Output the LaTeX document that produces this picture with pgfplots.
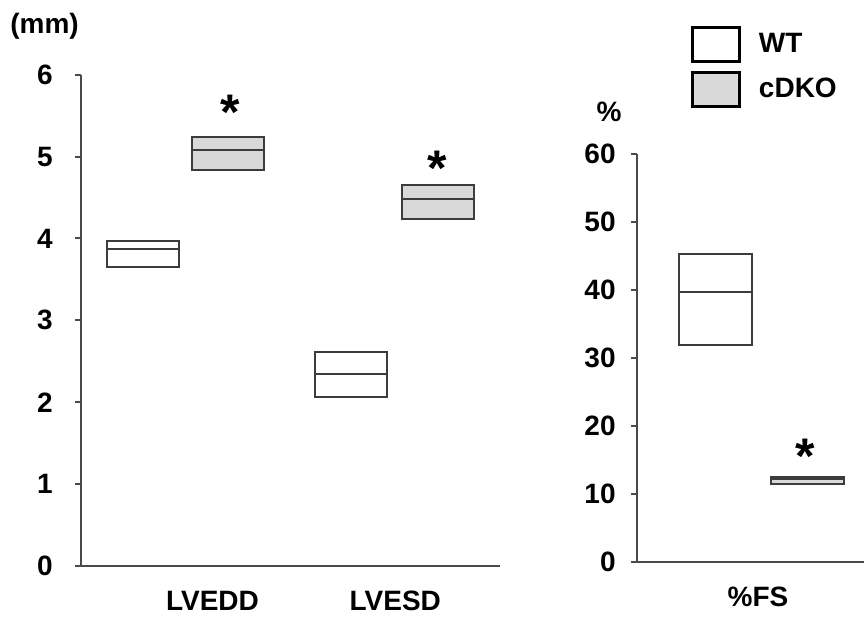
\documentclass[border=0pt]{standalone}
\usepackage{pgfplots}
\pgfplotsset{compat=1.18}
\usepackage{fontspec}
\setmainfont{Liberation Sans}
\definecolor{boxc}{HTML}{3C3C38}
\definecolor{fillc}{HTML}{D9D9D9}
\definecolor{axc}{HTML}{4A4A46}
\newcommand{\lblfont}{\bfseries\fontsize{14}{16.8}\selectfont}
\newcommand{\astfont}{\bfseries\fontsize{25}{30}\selectfont}
\pgfplotsset{
  common/.style={
    scale only axis, no markers, clip=false,
    axis lines*=left,
    axis line style={draw=axc, line width=1pt},
    tick align=outside, major tick length=3pt,
    every tick/.style={draw=axc, line width=1pt},
    xtick style={draw=none},
    ytick pos=left, xtick pos=bottom,
    /pgf/number format/assume math mode=true,
    tick label style={font=\lblfont, inner sep=0pt},
    xticklabel style={anchor=north, yshift=-9.35pt},
  },
  bx/.style={draw=boxc, line width=1pt},
}
\begin{document}
\begin{tikzpicture}
\useasboundingbox (0,0) rectangle (432pt,308.5pt);
% Left panel
\begin{axis}[common,
  at={(40.5pt,25.5pt)}, anchor=south west,
  width=209.5pt, height=245.65pt,
  xmin=81, xmax=500, ymin=0, ymax=6,
  ytick={0,1,2,3,4,5,6},
  yticklabel style={anchor=east, xshift=-11pt},
  xtick={212.5,395.3}, xticklabels={LVEDD,LVESD},
]
% LVEDD WT
\addplot[bx, fill=white] coordinates {(107,3.655) (179.3,3.655) (179.3,3.965) (107,3.965)} -- cycle;
\addplot[bx] coordinates {(107,3.875) (179.3,3.875)};
% LVEDD cDKO
\addplot[bx, fill=fillc] coordinates {(192.3,4.835) (264.3,4.835) (264.3,5.242) (192.3,5.242)} -- cycle;
\addplot[bx] coordinates {(192.3,5.083) (264.3,5.083)};
% LVESD WT
\addplot[bx, fill=white] coordinates {(315,2.06) (387,2.06) (387,2.617) (315,2.617)} -- cycle;
\addplot[bx] coordinates {(315,2.34) (387,2.34)};
% LVESD cDKO
\addplot[bx, fill=fillc] coordinates {(401.7,4.241) (474,4.241) (474,4.648) (401.7,4.648)} -- cycle;
\addplot[bx] coordinates {(401.7,4.485) (474,4.485)};
\node[anchor=north, inner sep=0pt, font=\astfont] at (axis cs:230,5.751) {*};
\node[anchor=north, inner sep=0pt, font=\astfont] at (axis cs:437.7,5.071) {*};
\node[anchor=west, inner sep=0pt, font=\lblfont] at (axis description cs:-0.1695,1.098) {(mm)};
\end{axis}
% Right panel
\begin{axis}[common,
  at={(318.65pt,27.65pt)}, anchor=south west,
  width=113.35pt, height=203.85pt,
  xmin=637.3, xmax=864, ymin=0, ymax=60,
  ytick={0,10,20,30,40,50,60},
  yticklabel style={anchor=east, xshift=-7.65pt},
  xtick={758}, xticklabels={\%FS},
  legend style={at={(axis description cs:0.2355,1.314)}, anchor=north west,
    draw=none, fill=none, inner sep=0pt, outer sep=0pt,
    row sep=4pt, column sep=8.85pt,
    font=\lblfont, nodes={inner sep=0pt}},
  legend cell align=left,
  legend image code/.code={\draw[#1, line width=1.5pt] (0pt,-8.5pt) rectangle (23.8pt,8.5pt);},
]
\addlegendimage{draw=black, fill=white}
\addlegendentry{WT}
\addlegendimage{draw=black, fill=fillc}
\addlegendentry{cDKO}
% %FS WT
\addplot[bx, fill=white, forget plot] coordinates {(679.3,31.94) (752.3,31.94) (752.3,45.28) (679.3,45.28)} -- cycle;
\addplot[bx, forget plot] coordinates {(679.3,39.69) (752.3,39.69)};
% %FS cDKO
\addplot[bx, fill=fillc, forget plot] coordinates {(770.7,11.39) (844,11.39) (844,12.51) (770.7,12.51)} -- cycle;
\addplot[bx, forget plot] coordinates {(770.7,12.2) (844,12.2)};
\node[anchor=north, inner sep=0pt, font=\astfont] at (axis cs:805.7,18.16) {*};
\node[anchor=center, inner sep=0pt, font=\lblfont] at (axis description cs:-0.1248,1.103) {\%};
\end{axis}
\end{tikzpicture}
\end{document}
